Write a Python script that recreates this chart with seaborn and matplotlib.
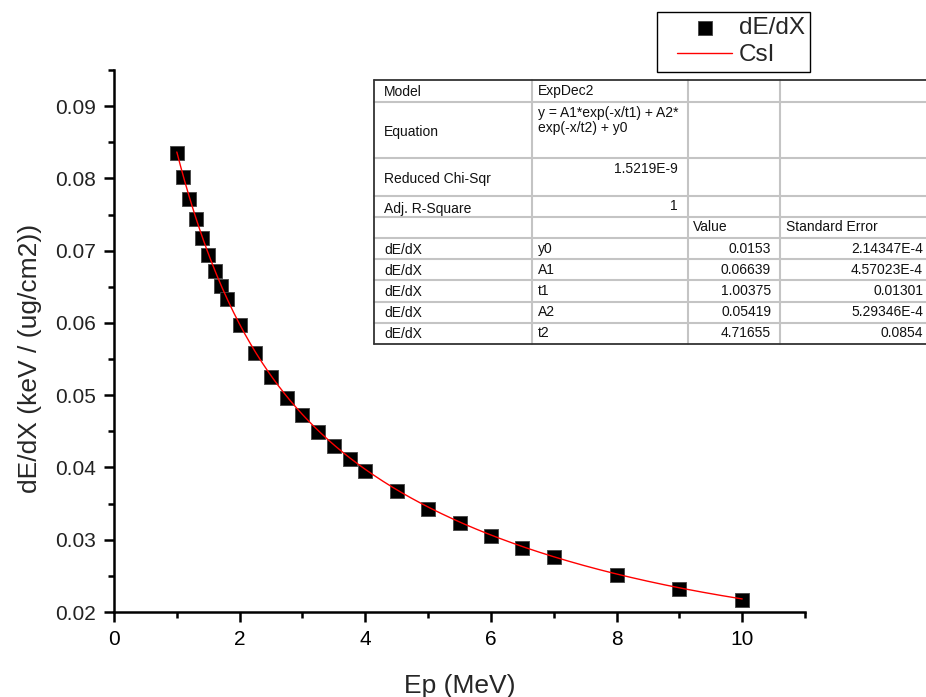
import numpy as np
import pandas as pd
import matplotlib
matplotlib.use("Agg")
import matplotlib.pyplot as plt
from matplotlib.lines import Line2D
from matplotlib.collections import PathCollection
from matplotlib.legend_handler import HandlerLine2D, HandlerPathCollection
from matplotlib.patches import Rectangle
from matplotlib.ticker import MultipleLocator, FormatStrFormatter
import seaborn as sns

# Measured stopping power of CsI for protons
energy_mev = [1.0, 1.1, 1.2, 1.3, 1.4, 1.5, 1.6, 1.7, 1.8, 2.0, 2.25, 2.5, 2.75,
              3.0, 3.25, 3.5, 3.75, 4.0, 4.5, 5.0, 5.5, 6.0, 6.5, 7.0, 8.0, 9.0, 10.0]
dedx = [0.0835, 0.0802, 0.0771, 0.0744, 0.0717, 0.0694, 0.0672, 0.0651, 0.0633,
        0.0597, 0.0558, 0.0525, 0.0496, 0.0472, 0.0449, 0.0430, 0.0412, 0.0395,
        0.0367, 0.0342, 0.0323, 0.0305, 0.0289, 0.0276, 0.0251, 0.0232, 0.0217]

# ExpDec2 fit results
param_names = ["y0", "A1", "t1", "A2", "t2"]
param_values = [0.0153, 0.06639, 1.00375, 0.05419, 4.71655]
param_value_labels = ["0.0153", "0.06639", "1.00375", "0.05419", "4.71655"]
param_errors = ["2.14347E-4", "4.57023E-4", "0.01301", "5.29346E-4", "0.0854"]
chi_sqr = "1.5219E-9"
adj_r2 = "1"

x_ticks = [0, 2, 4, 6, 8, 10]
y_ticks = [0.02, 0.03, 0.04, 0.05, 0.06, 0.07, 0.08, 0.09]

sns.set_style("ticks")
plt.rcParams["font.family"] = ["Liberation Sans", "DejaVu Sans"]

W, H = 926, 697
fig = plt.figure(figsize=(W / 100, H / 100), dpi=100)
ax = fig.add_axes([114 / W, 1 - 612 / H, (805 - 114) / W, (612 - 70) / H])

points = pd.DataFrame({"Ep": energy_mev, "dEdX": dedx})
y0, a1, t1, a2, t2 = param_values
xf = np.linspace(min(energy_mev), max(energy_mev), 300)
fit = pd.DataFrame({"Ep": xf, "dEdX": a1 * np.exp(-xf / t1) + a2 * np.exp(-xf / t2) + y0})

sns.scatterplot(data=points, x="Ep", y="dEdX", ax=ax, marker="s", s=105,
                color="black", edgecolor="#444444", linewidth=0.6,
                label="dE/dX", zorder=3)
sns.lineplot(data=fit, x="Ep", y="dEdX", ax=ax, color="#ff0000", linewidth=1.0,
             label="CsI", zorder=4)

ax.set_xlim(0, 11)
ax.set_ylim(0.02, 0.095)
ax.set_xticks(x_ticks)
ax.set_yticks(y_ticks)
ax.xaxis.set_minor_locator(MultipleLocator(1))
ax.yaxis.set_minor_locator(MultipleLocator(0.005))
ax.yaxis.set_major_formatter(FormatStrFormatter("%.2f"))
ax.xaxis.set_major_formatter(FormatStrFormatter("%d"))
for s in ["top", "right"]:
    ax.spines[s].set_visible(False)
for s in ["left", "bottom"]:
    ax.spines[s].set_linewidth(1.8)
    ax.spines[s].set_color("black")
ax.tick_params(which="major", length=7, width=1.8, labelsize=15, colors="black", pad=6)
ax.tick_params(which="minor", length=4, width=1.8, colors="black")
ax.tick_params(axis="y", which="major", labelcolor="#222222")
ax.set_xlabel("Ep (MeV)", fontsize=19, labelpad=18)
ax.set_ylabel("dE/dX (keV / (ug/cm2))", fontsize=19)
ax.yaxis.set_label_coords(-0.104, 0.467)

handler_map = {Line2D: HandlerLine2D(xpad=0.62),
               PathCollection: HandlerPathCollection(xpad=0.62)}
leg = ax.legend(loc="upper left", bbox_to_anchor=(657 / W, 1 - 12 / H),
                bbox_transform=fig.transFigure, borderaxespad=0, fontsize=17.5,
                frameon=True, fancybox=False, framealpha=1, edgecolor="black",
                handlelength=2.85, handletextpad=0.3, borderpad=0.22,
                labelspacing=0.2, handler_map=handler_map)
leg.get_frame().set_linewidth(1.0)


# Fit summary table, laid out in pixel units from the top-left corner
def fx(px):
    return px / W


def fy(py):
    return 1 - py / H


rows = [80, 102, 158, 196, 217, 238, 259, 280, 302, 323, 344]
cols = [374, 532, 688, 780, 940]

fig.add_artist(Rectangle((fx(cols[0]), fy(rows[-1])), fx(cols[-1] - cols[0]),
                         (rows[-1] - rows[0]) / H, transform=fig.transFigure,
                         facecolor="white", edgecolor="none", zorder=5))
grid = "#c4c4c4"
for r in rows[1:-1]:
    fig.add_artist(Line2D([fx(cols[0]), fx(cols[-1])], [fy(r), fy(r)],
                          color=grid, lw=1.5, zorder=6))
for c in cols[1:-1]:
    fig.add_artist(Line2D([fx(c), fx(c)], [fy(rows[0]), fy(rows[-1])],
                          color=grid, lw=1.5, zorder=6))
for r in (rows[0], rows[-1]):
    fig.add_artist(Line2D([fx(cols[0]), fx(cols[-1])], [fy(r), fy(r)],
                          color="#333333", lw=1.3, zorder=7))
fig.add_artist(Line2D([fx(cols[0]), fx(cols[0])], [fy(rows[0]), fy(rows[-1])],
                      color="#333333", lw=1.3, zorder=7))

tfs = 10


def cell(px, py, s, ha="left"):
    fig.text(fx(px), fy(py), s, ha=ha, va="center", fontsize=tfs,
             color="#111111", zorder=8)


cell(384, 92, "Model")
cell(538, 91, "ExpDec2")
cell(384, 132, "Equation")
cell(538, 113, "y = A1*exp(-x/t1) + A2*")
cell(538, 128, "exp(-x/t2) + y0")
cell(384, 179, "Reduced Chi-Sqr")
cell(678, 169, chi_sqr, ha="right")
cell(384, 209, "Adj. R-Square")
cell(678, 206, adj_r2, ha="right")
cell(693, 227, "Value")
cell(786, 227, "Standard Error")
row_y = [249, 270, 291, 312, 333]
for yy, name, val, err in zip(row_y, param_names, param_value_labels, param_errors):
    cell(384, yy + 1, "dE/dX")
    cell(538, yy, name)
    cell(771, yy, val, ha="right")
    cell(923, yy, err, ha="right")

fig.savefig("out.png", dpi=100, facecolor="white")
